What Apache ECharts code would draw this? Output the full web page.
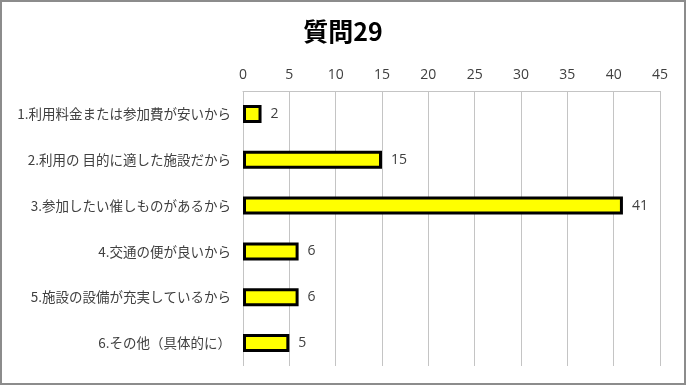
<!DOCTYPE html>
<html>
<head>
<meta charset="utf-8">
<script src="https://cdn.jsdelivr.net/npm/echarts@6/dist/echarts.min.js"></script>
<style>
  html, body { margin: 0; padding: 0; background: #fff; }
  #chart { width: 686px; height: 385px; box-sizing: border-box; border: 2px solid #8c8c8c; }
</style>
</head>
<body>
<div id="chart"></div>
<script>
const titleText = "質問29";
const categories = [
  "1.利用料金または参加費が安いから",
  "2.利用の 目的に適した施設だから",
  "3.参加したい催しものがあるから",
  "4.交通の便が良いから",
  "5.施設の設備が充実しているから",
  "6.その他（具体的に）",
];
const counts = [2, 15, 41, 6, 6, 5];
const axisMax = 45;
const axisStep = 5;

const chart = echarts.init(document.getElementById("chart"));
chart.setOption({
  animation: false,
  title: {
    text: titleText,
    left: "center",
    top: 12,
    textStyle: { fontFamily: "Noto Sans CJK JP", fontSize: 25, fontWeight: "bold", color: "#000" },
  },
  grid: { left: 241, right: 24, top: 89, bottom: 17 },
  xAxis: {
    type: "value",
    position: "top",
    min: 0,
    max: axisMax,
    interval: axisStep,
    axisLine: { show: true, lineStyle: { color: "#c4c4c4", width: 1 } },
    axisTick: { show: false },
    axisLabel: { color: "#404040", fontSize: 14, fontFamily: "Open Sans", margin: 9 },
    splitLine: { lineStyle: { color: "#c4c4c4", width: 1 } },
  },
  yAxis: {
    type: "category",
    inverse: true,
    data: categories,
    axisLine: { show: false },
    axisTick: { show: false },
    axisLabel: { color: "#404040", fontSize: 13.5, fontFamily: "Noto Sans CJK JP", margin: 12 },
  },
  series: [
    {
      type: "bar",
      data: counts,
      barWidth: 18,
      itemStyle: { color: "#ffff00", borderColor: "#000", borderWidth: 3 },
      label: {
        show: true,
        position: "right",
        distance: 9,
        color: "#404040",
        fontSize: 14,
        fontFamily: "Open Sans",
      },
    },
  ],
});
</script>
</body>
</html>
